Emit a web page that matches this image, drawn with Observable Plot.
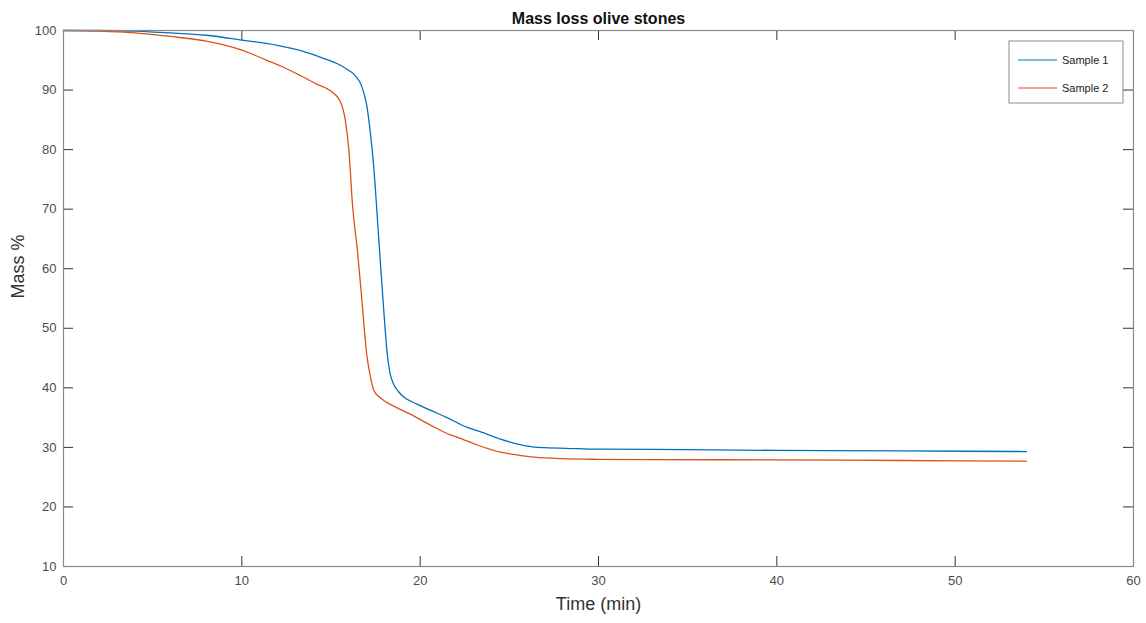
<!DOCTYPE html>
<html>
<head>
<meta charset="utf-8">
<script src="https://cdn.jsdelivr.net/npm/d3@7"></script>
<script src="https://cdn.jsdelivr.net/npm/@observablehq/plot@0.6"></script>
<style>
  html, body { margin: 0; padding: 0; background: #fff; }
  #chart { width: 1146px; height: 623px; }
</style>
</head>
<body>
<div id="chart"></div>
<script>
const titleText = "Mass loss olive stones";
const xLabel = "Time (min)";
const yLabel = "Mass %";
const seriesNames = ["Sample 1", "Sample 2"];
const seriesColors = ["#0072BD", "#D95319"];
const xTicks = [0, 10, 20, 30, 40, 50, 60];
const yTicks = [10, 20, 30, 40, 50, 60, 70, 80, 90, 100];

const s1Time = [0,2,4,6,8,10,12,13.3,14.5,15.5,16.0,16.4,16.7,17.0,17.2,17.4,17.6,17.8,18.0,18.15,18.3,18.5,18.8,19.1,19.8,20.6,21.5,22.6,23.4,24.5,25.4,26.3,27,28.2,30,33,40,47,54];
const s1Mass = [100,100,99.9,99.6,99.2,98.4,97.5,96.6,95.4,94.2,93.3,92.3,90.8,87.5,83,77,68.5,59.7,51.3,45.8,42.6,40.7,39.3,38.4,37.3,36.2,35,33.4,32.6,31.4,30.6,30.1,29.95,29.85,29.7,29.65,29.5,29.4,29.3];

const s2Time = [0,2,4,6,8,10,11.4,12.2,13.3,14.2,15.0,15.5,15.8,16.0,16.2,16.5,16.75,17.0,17.2,17.4,17.7,18.1,18.6,19.5,20.6,21.7,22.1,23.2,24.5,25.5,26.4,28,30,33,40,47,54];
const s2Mass = [100,99.9,99.6,99.0,98.2,96.7,95,94,92.4,91,89.8,88.2,85,80,71,62.5,54.1,45.7,42,39.6,38.5,37.6,36.8,35.5,33.7,32.1,31.7,30.4,29.2,28.7,28.35,28.1,28.0,27.95,27.9,27.8,27.7];

const data = [
  ...s1Time.map((t, i) => ({series: seriesNames[0], time: t, mass: s1Mass[i]})),
  ...s2Time.map((t, i) => ({series: seriesNames[1], time: t, mass: s2Mass[i]}))
];

const W = 1146, H = 623;
const mL = 63, mR = 13, mT = 30, mB = 57;
const fw = W - mL - mR, fh = H - mT - mB;
const tickLen = 10;
const font = "'Liberation Sans', Arial, Helvetica, sans-serif";

const chart = Plot.plot({
  width: W, height: H,
  marginLeft: mL, marginRight: mR, marginTop: mT, marginBottom: mB,
  style: {fontFamily: font, background: "#fff", overflow: "visible"},
  x: {domain: [0, 60], ticks: xTicks, label: null},
  y: {domain: [10, 100], ticks: yTicks, label: null},
  color: {domain: seriesNames, range: seriesColors},
  marks: [
    Plot.axisX(xTicks, {tickSize: 0, tickPadding: 9, fontSize: 13, color: "#4d4d4d", label: null}),
    Plot.axisY(yTicks, {tickSize: 0, tickPadding: 7, fontSize: 13, color: "#4d4d4d", label: null}),
    Plot.ruleX(xTicks, {x: d => d, insetTop: fh - tickLen, stroke: "#333", strokeWidth: 1}),
    Plot.ruleX(xTicks, {x: d => d, insetBottom: fh - tickLen, stroke: "#333", strokeWidth: 1}),
    Plot.ruleY(yTicks, {y: d => d, insetRight: fw - tickLen, stroke: "#333", strokeWidth: 1}),
    Plot.ruleY(yTicks, {y: d => d, insetLeft: fw - tickLen, stroke: "#333", strokeWidth: 1}),
    Plot.line(data, {x: "time", y: "mass", z: "series", stroke: "series", strokeWidth: 1.3, curve: "monotone-x"}),
    Plot.frame({stroke: "#8a8a8a", strokeWidth: 1.2}),
    Plot.text([titleText], {frameAnchor: "top", dy: -18, fontSize: 16, fontWeight: "bold", fill: "#111"}),
    Plot.text([xLabel], {frameAnchor: "bottom", dy: 43, fontSize: 18, fill: "#333"}),
    Plot.text([yLabel], {frameAnchor: "left", dx: -45, rotate: -90, fontSize: 18, fill: "#333"})
  ]
});

document.getElementById("chart").appendChild(chart);

const svg = d3.select(chart);
const lg = svg.append("g").attr("font-family", font).attr("font-size", 11).attr("text-anchor", "start");
const lx = 1009, ly = 41, lw = 114, lh = 62;
lg.append("rect").attr("x", lx).attr("y", ly).attr("width", lw).attr("height", lh)
  .attr("fill", "#fff").attr("stroke", "#8a8a8a").attr("stroke-width", 1);
seriesNames.forEach((name, i) => {
  const yy = ly + 19 + i * 28;
  lg.append("line").attr("x1", lx + 9).attr("x2", lx + 48).attr("y1", yy).attr("y2", yy)
    .attr("stroke", seriesColors[i]).attr("stroke-width", 1.2);
  lg.append("text").attr("x", lx + 53).attr("y", yy).attr("dy", "0.35em")
    .attr("text-anchor", "start").attr("fill", "#222").text(name);
});
</script>
</body>
</html>
